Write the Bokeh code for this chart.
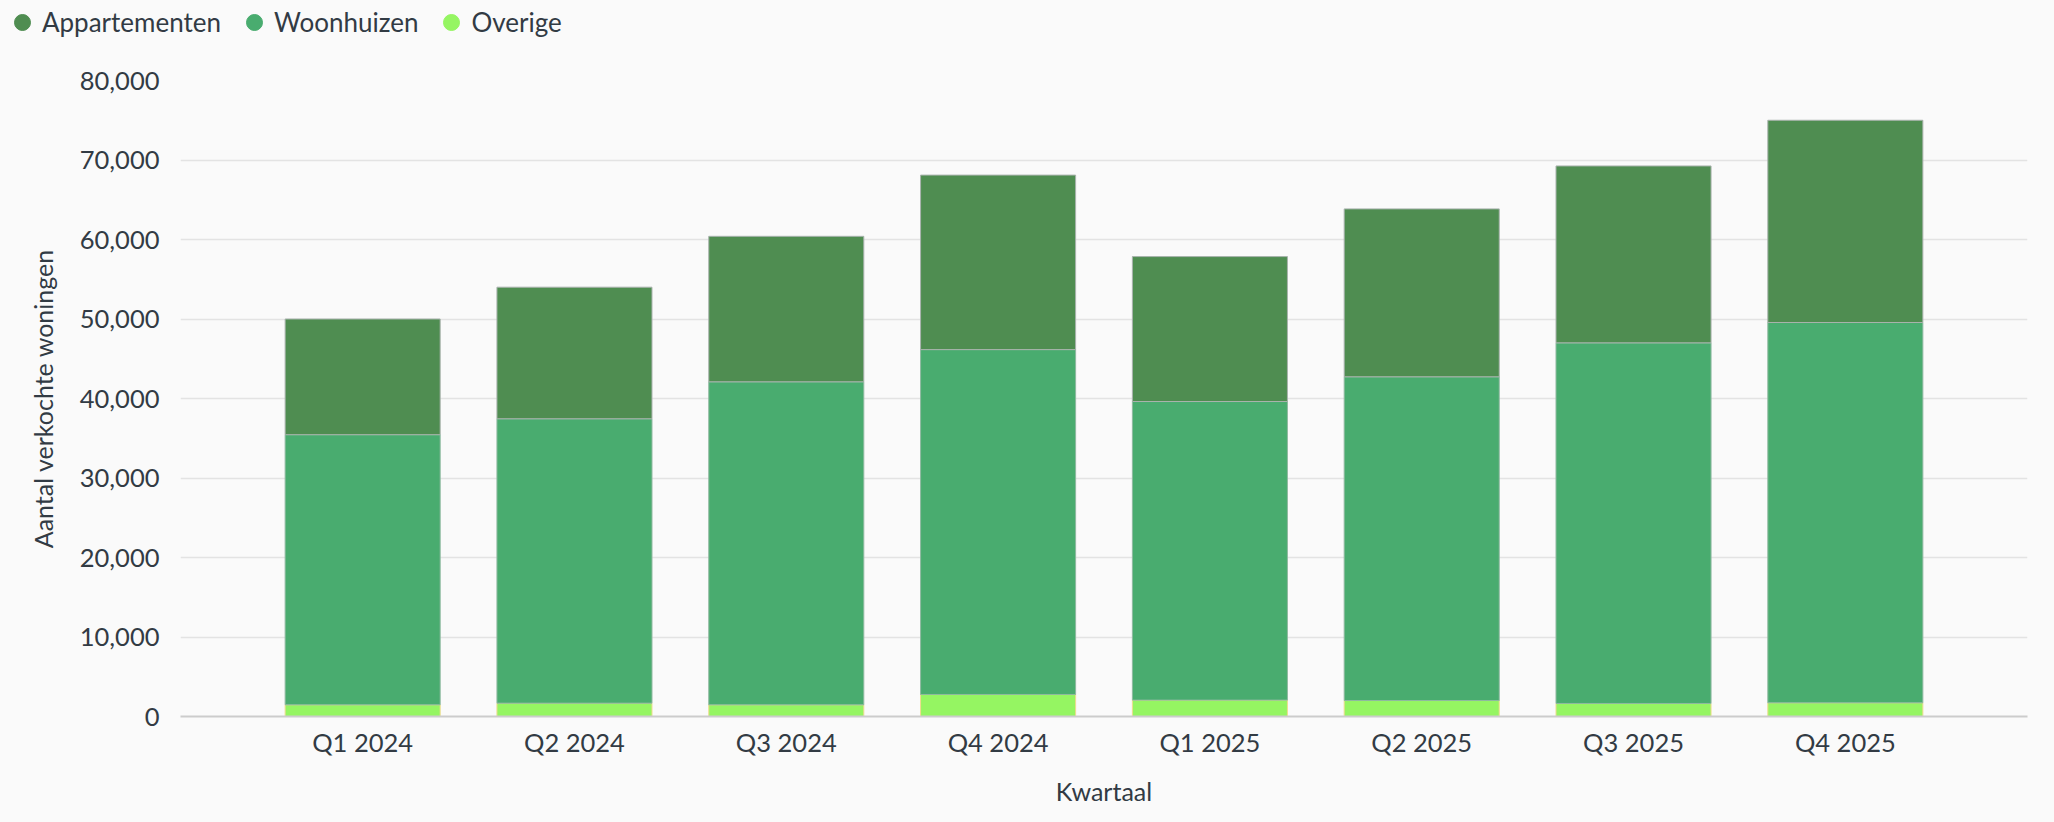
import numpy as np
from bokeh.plotting import figure
from bokeh.layouts import column
from bokeh.models import (FactorRange, Range1d, Legend, LegendItem,
                          NumeralTickFormatter, ColumnDataSource)
from bokeh.embed import file_html
from bokeh.resources import INLINE

kwartalen = ["Q1 2024", "Q2 2024", "Q3 2024", "Q4 2024",
             "Q1 2025", "Q2 2025", "Q3 2025", "Q4 2025"]
appartementen = [14550, 16550, 18300, 21950, 18230, 21120, 22250, 25440]
woonhuizen = [33980, 35770, 40630, 43380, 37560, 40720, 45360, 47840]
overige = [1470, 1680, 1470, 2770, 2060, 2010, 1640, 1720]

series = ["overige", "woonhuizen", "appartementen"]
labels = {"appartementen": "Appartementen", "woonhuizen": "Woonhuizen", "overige": "Overige"}
fills = {"appartementen": "#4f8d51", "woonhuizen": "#49ac6f", "overige": "#95f562"}
edges = {"appartementen": "#a9b3ad", "woonhuizen": "#8fb9a0", "overige": "#eedc8e"}

FONT = "Lato"
TXT = "#323b44"
BG = "#fafafa"

src = ColumnDataSource(dict(kwartaal=kwartalen, appartementen=appartementen,
                            woonhuizen=woonhuizen, overige=overige))

# ---- legend strip ----
lg = figure(width=2054, height=48, x_range=Range1d(0, 1), y_range=Range1d(0, 1),
            x_axis_type=None, y_axis_type=None, output_backend="svg",
            toolbar_location=None, min_border=0)
lg.background_fill_color = BG
lg.border_fill_color = BG
lg.outline_line_color = None
lg.xgrid.visible = False
lg.ygrid.visible = False

items = []
for s in ["appartementen", "woonhuizen", "overige"]:
    r = lg.scatter(x=[0.5], y=np.array([np.nan]), marker="circle",
                   fill_color=fills[s], line_color=fills[s])
    items.append(LegendItem(label=labels[s], renderers=[r]))

legend = Legend(items=items, location="top_left", orientation="horizontal",
                glyph_width=40, glyph_height=40, label_standoff=-4, spacing=13,
                padding=3, margin=2, border_line_color=None, background_fill_alpha=0,
                label_text_font=FONT, label_text_font_size="26px",
                label_text_color=TXT, label_height=26)
lg.add_layout(legend)

# ---- main chart ----
p = figure(width=2054, height=774,
           x_range=FactorRange(factors=kwartalen, range_padding=0.36,
                               range_padding_units="absolute"),
           y_range=Range1d(0, 80000),
           output_backend="svg", toolbar_location=None,
           min_border_left=180, min_border_right=27,
           min_border_top=32, min_border_bottom=106)
p.background_fill_color = BG
p.border_fill_color = BG
p.outline_line_color = None

for fig in (lg, p):
    try:
        fig.frame_align = False
    except AttributeError:
        pass

p.vbar_stack(series, x="kwartaal", width=0.732, source=src,
             fill_color=[fills[s] for s in series],
             line_color=[edges[s] for s in series], line_width=1)

p.xgrid.grid_line_color = None
p.ygrid.grid_line_color = "#e3e3e3"
p.ygrid.grid_line_width = 1.5
p.yaxis.ticker = [0, 10000, 20000, 30000, 40000, 50000, 60000, 70000, 80000]
p.yaxis.formatter = NumeralTickFormatter(format="0,0")

for ax in (p.xaxis, p.yaxis):
    ax.major_tick_line_color = None
    ax.minor_tick_line_color = None
    ax.major_label_text_font = FONT
    ax.major_label_text_font_size = "25.5px"
    ax.major_label_text_color = TXT
    ax.axis_label_text_font = FONT
    ax.axis_label_text_font_size = "25px"
    ax.axis_label_text_color = TXT
    ax.axis_label_text_font_style = "normal"

p.yaxis.axis_line_color = None
p.yaxis.major_label_standoff = 15
p.yaxis.axis_label = "Aantal verkochte woningen"
p.yaxis.axis_label_standoff = 19

p.xaxis.axis_line_color = "#cccccc"
p.xaxis.axis_line_width = 2
p.xaxis.major_label_standoff = 4
p.xaxis.axis_label = "Kwartaal"
p.xaxis.axis_label_standoff = 16

layout = column(lg, p, spacing=0, styles={"background-color": BG})
open("out.html", "w").write(file_html(layout, INLINE))
